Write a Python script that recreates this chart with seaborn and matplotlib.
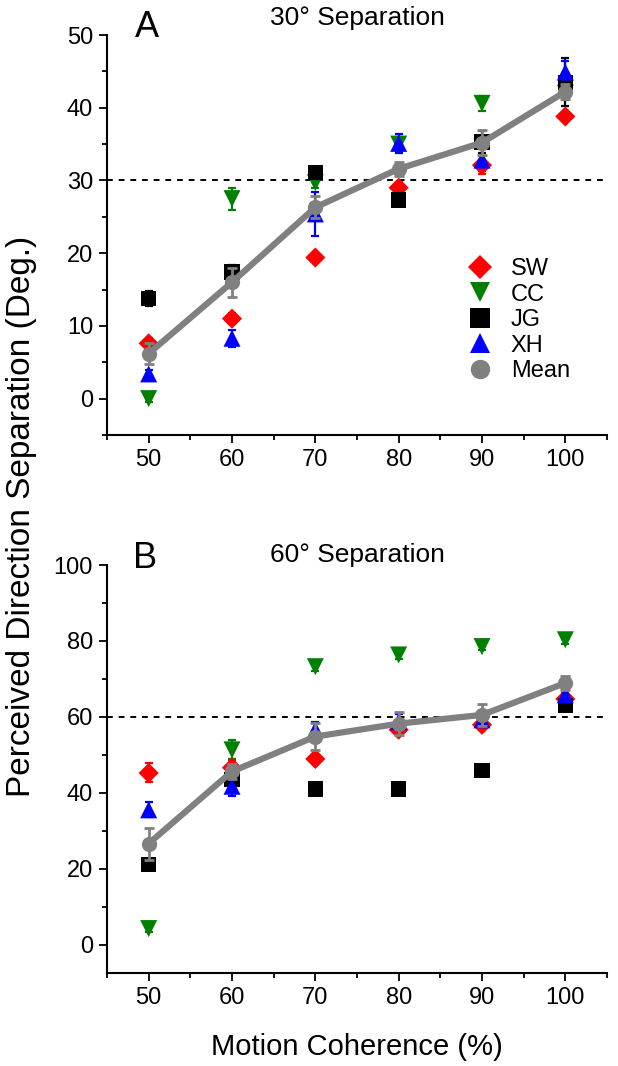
import numpy as np
import pandas as pd
import matplotlib
matplotlib.use('Agg')
import matplotlib.pyplot as plt
import seaborn as sns
from matplotlib.lines import Line2D
from matplotlib.ticker import MultipleLocator

coherence = [50, 60, 70, 80, 90, 100]
subjects = ['SW', 'CC', 'JG', 'XH']

# panel A - 30 deg separation
a_SW = [7.6, 11.0, 19.4, 29.0, 32.1, 38.8]
a_CC = [0.0, 27.5, 29.7, 35.0, 40.6, 42.0]
a_JG = [13.8, 17.4, 31.1, 27.3, 35.3, 43.5]
a_XH = [3.4, 8.3, 25.4, 35.1, 32.8, 44.9]
a_mean = [6.2, 16.0, 26.3, 31.6, 35.2, 42.2]
a_SW_err = [0.8, 0.8, 0.5, 0.8, 1.2, 0.5]
a_CC_err = [0.5, 1.5, 0.8, 1.0, 1.0, 1.0]
a_JG_err = [1.0, 1.0, 0.8, 0.8, 1.5, 3.3]
a_XH_err = [0.6, 1.2, 3.0, 1.3, 1.5, 1.5]
a_mean_err = [1.4, 2.0, 1.5, 1.0, 1.7, 1.0]

# panel B - 60 deg separation
b_SW = [45.2, 46.6, 48.9, 56.6, 57.9, 64.7]
b_CC = [4.2, 51.3, 73.2, 76.3, 78.5, 80.3]
b_JG = [21.0, 43.4, 41.0, 41.0, 45.8, 63.0]
b_XH = [35.5, 41.7, 56.6, 58.7, 59.2, 65.8]
b_mean = [26.6, 45.6, 54.8, 58.2, 60.5, 68.9]
b_SW_err = [2.5, 2.0, 1.0, 1.5, 1.5, 1.5]
b_CC_err = [1.0, 2.5, 1.0, 1.0, 1.0, 1.0]
b_JG_err = [1.0, 2.0, 1.0, 1.0, 1.0, 1.5]
b_XH_err = [2.0, 2.5, 2.0, 2.0, 2.0, 2.0]
b_mean_err = [4.2, 2.0, 3.5, 3.0, 3.0, 1.8]

colors = {'SW': '#ff0000', 'CC': '#007f00', 'JG': '#000000', 'XH': '#0000ff'}
markers = {'SW': 'D', 'CC': 'v', 'JG': 's', 'XH': '^'}
msize = {'SW': 105, 'CC': 150, 'JG': 120, 'XH': 150}  # scatter area per marker shape
mean_color = '#808080'

sns.set_theme(style='ticks')
plt.rcParams['font.family'] = ['Liberation Sans', 'DejaVu Sans']
plt.rcParams['text.color'] = 'black'
plt.rcParams['axes.labelcolor'] = 'black'
plt.rcParams['xtick.color'] = 'black'
plt.rcParams['ytick.color'] = 'black'


def make_df(vals, errs):
    rows = []
    for s in subjects:
        for x, v, e in zip(coherence, vals[s], errs[s]):
            rows.append({'coherence': x, 'sep': v, 'err': e, 'subject': s})
    return pd.DataFrame(rows)


def draw_panel(ax, df, mean, mean_err, ref, ylim, major, minor):
    # error bars of each subject first, markers on top
    for s in subjects:
        d = df[df['subject'] == s]
        ax.errorbar(d['coherence'], d['sep'], yerr=d['err'], fmt='none',
                    ecolor=colors[s], elinewidth=1.6, capsize=3, capthick=1.6, zorder=2)
        sns.scatterplot(data=d, x='coherence', y='sep', color=colors[s],
                        marker=markers[s], s=msize[s], edgecolor='none',
                        legend=False, ax=ax, zorder=3)
    ax.errorbar(coherence, mean, yerr=mean_err, fmt='none', ecolor=mean_color,
                elinewidth=2, capsize=3.5, capthick=2, zorder=4)
    sns.lineplot(x=coherence, y=mean, color=mean_color, lw=4.5, marker='o',
                 markersize=11, markeredgewidth=0, ax=ax, zorder=5)
    ax.axhline(ref, color='black', ls=(0, (3, 3)), lw=1.4, zorder=1)

    ax.set_xlim(45, 105)
    ax.set_ylim(*ylim)
    ax.xaxis.set_major_locator(MultipleLocator(10))
    ax.xaxis.set_minor_locator(MultipleLocator(5))
    ax.yaxis.set_major_locator(MultipleLocator(major))
    ax.yaxis.set_minor_locator(MultipleLocator(minor))
    ax.tick_params(which='major', direction='out', length=6, width=1.3, labelsize=17,
                   color='black', labelcolor='black', pad=4)
    ax.tick_params(which='minor', direction='out', length=3.5, width=1.3, color='black')
    ax.tick_params(axis='x', which='both', bottom=True)
    ax.tick_params(axis='y', which='both', left=True)
    for side in ['top', 'right']:
        ax.spines[side].set_visible(False)
    for side in ['left', 'bottom']:
        ax.spines[side].set_linewidth(1.5)
        ax.spines[side].set_color('black')
    ax.set_xlabel('')
    ax.set_ylabel('')
    ax.set_facecolor('white')
    ax.grid(False)


fig = plt.figure(figsize=(6.18, 10.66), dpi=100)
fig.patch.set_facecolor('white')
axA = fig.add_axes([107 / 618, 1 - 435 / 1066, 500 / 618, 400 / 1066])
axB = fig.add_axes([107 / 618, 1 - 973 / 1066, 500 / 618, 408 / 1066])

dfA = make_df({'SW': a_SW, 'CC': a_CC, 'JG': a_JG, 'XH': a_XH},
              {'SW': a_SW_err, 'CC': a_CC_err, 'JG': a_JG_err, 'XH': a_XH_err})
dfB = make_df({'SW': b_SW, 'CC': b_CC, 'JG': b_JG, 'XH': b_XH},
              {'SW': b_SW_err, 'CC': b_CC_err, 'JG': b_JG_err, 'XH': b_XH_err})

draw_panel(axA, dfA, a_mean, a_mean_err, 30, (-5, 50), 10, 5)
draw_panel(axB, dfB, b_mean, b_mean_err, 60, (-7.5, 100), 20, 10)

axA.text(0.056, 0.995, 'A', transform=axA.transAxes, fontsize=26, va='baseline', ha='left')
axA.text(0.5, 1.025, '30° Separation', transform=axA.transAxes, fontsize=19,
         va='baseline', ha='center')
axB.text(0.052, 0.993, 'B', transform=axB.transAxes, fontsize=26, va='baseline', ha='left')
axB.text(0.5, 1.008, '60° Separation', transform=axB.transAxes, fontsize=19,
         va='baseline', ha='center')

# legend only in panel A
handles = [Line2D([], [], ls='none', marker=markers[s], color=colors[s],
                  markersize=14 if s != 'SW' else 12, markeredgewidth=0) for s in subjects]
handles.append(Line2D([], [], ls='none', marker='o', color=mean_color,
                      markersize=14, markeredgewidth=0))
axA.legend(handles, subjects + ['Mean'], loc='upper left',
           bbox_to_anchor=((466 - 107) / 500, 1 - (258 - 35) / 400),
           frameon=False, fontsize=17, handlelength=1.2, handletextpad=0.7,
           labelspacing=0.15, borderpad=0, borderaxespad=0)

fig.text(0.5 * (107 + 607) / 618, 1 - 1047 / 1066, 'Motion Coherence (%)', fontsize=21,
         ha='center', va='center')
fig.text(22 / 618, 1 - 516 / 1066, 'Perceived Direction Separation (Deg.)', fontsize=24,
         rotation=90, ha='center', va='center')

fig.savefig('out.png', dpi=100, facecolor='white')
